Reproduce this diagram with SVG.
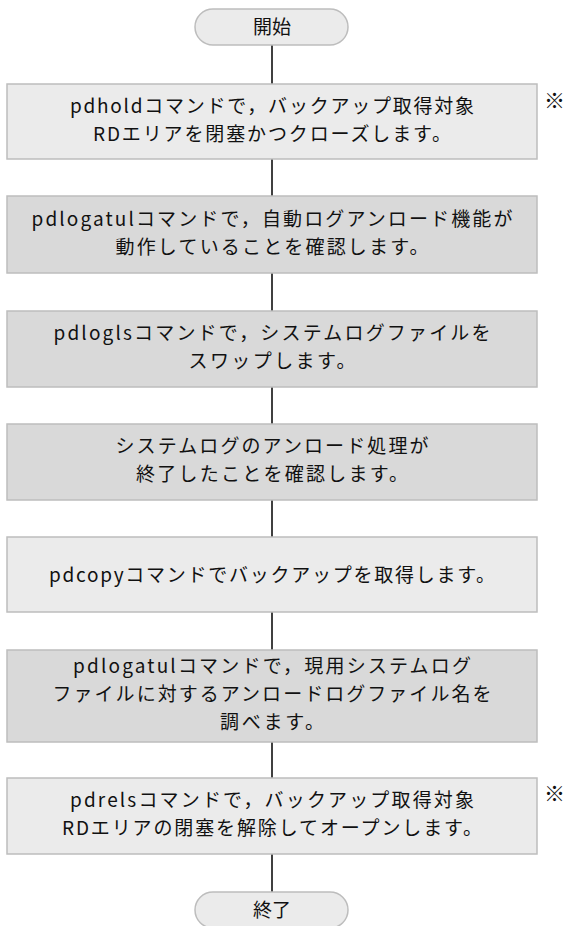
<svg xmlns="http://www.w3.org/2000/svg" width="566" height="926" viewBox="0 0 566 926">
<style>
.box{stroke:#bdbdbd;stroke-width:1.5}
.lt{fill:#ebebeb}
.dk{fill:#d9d9d9}
.t{font-family:"Noto Sans CJK JP","Noto Sans Mono CJK JP",sans-serif;font-size:19px;fill:#111;text-anchor:middle}
.m{font-size:21px}
.c{stroke:#000;stroke-width:1.5;fill:none}
</style>
<rect width="566" height="926" fill="#fff"/>
<g id="connectors">
<line class="c" x1="272" y1="45" x2="272" y2="84"/>
<line class="c" x1="272" y1="159" x2="272" y2="196"/>
<line class="c" x1="272" y1="273" x2="272" y2="311"/>
<line class="c" x1="272" y1="387" x2="272" y2="424"/>
<line class="c" x1="272" y1="500" x2="272" y2="537"/>
<line class="c" x1="272" y1="612" x2="272" y2="650"/>
<line class="c" x1="272" y1="742" x2="272" y2="778"/>
<line class="c" x1="272" y1="854" x2="272" y2="892"/>
</g>
<g id="start">
<rect class="box lt" x="195" y="9" width="153" height="36" rx="18"/>
<text class="t" x="272" y="34">開始</text>
</g>
<g id="step1">
<rect class="box lt" x="7" y="84" width="530" height="75"/>
<text class="t" x="272" y="112.5" textLength="404" lengthAdjust="spacing">pdholdコマンドで，バックアップ取得対象</text>
<text class="t" x="272" y="140.5" textLength="358" lengthAdjust="spacing">RDエリアを閉塞かつクローズします。</text>
<text class="t m" x="554.5" y="108">※</text>
</g>
<g id="step2">
<rect class="box dk" x="7" y="196" width="530" height="77"/>
<text class="t" x="272" y="225.5" textLength="481" lengthAdjust="spacing">pdlogatulコマンドで，自動ログアンロード機能が</text>
<text class="t" x="272" y="253.5" textLength="313" lengthAdjust="spacing">動作していることを確認します。</text>
</g>
<g id="step3">
<rect class="box dk" x="7" y="311" width="530" height="76"/>
<text class="t" x="272" y="340" textLength="437" lengthAdjust="spacing">pdloglsコマンドで，システムログファイルを</text>
<text class="t" x="272" y="368" textLength="167" lengthAdjust="spacing">スワップします。</text>
</g>
<g id="step4">
<rect class="box dk" x="7" y="424" width="530" height="76"/>
<text class="t" x="272" y="453" textLength="313" lengthAdjust="spacing">システムログのアンロード処理が</text>
<text class="t" x="272" y="481" textLength="272" lengthAdjust="spacing">終了したことを確認します。</text>
</g>
<g id="step5">
<rect class="box lt" x="7" y="537" width="530" height="75"/>
<text class="t" x="272" y="581.5" textLength="446" lengthAdjust="spacing">pdcopyコマンドでバックアップを取得します。</text>
</g>
<g id="step6">
<rect class="box dk" x="7" y="650" width="530" height="92"/>
<text class="t" x="272" y="673" textLength="398" lengthAdjust="spacing">pdlogatulコマンドで，現用システムログ</text>
<text class="t" x="272" y="701" textLength="439" lengthAdjust="spacing">ファイルに対するアンロードログファイル名を</text>
<text class="t" x="272" y="729" textLength="104" lengthAdjust="spacing">調べます。</text>
</g>
<g id="step7">
<rect class="box lt" x="7" y="778" width="530" height="76"/>
<text class="t" x="272" y="807" textLength="404" lengthAdjust="spacing">pdrelsコマンドで，バックアップ取得対象</text>
<text class="t" x="272" y="835" textLength="420" lengthAdjust="spacing">RDエリアの閉塞を解除してオープンします。</text>
<text class="t m" x="554.5" y="801">※</text>
</g>
<g id="end">
<rect class="box lt" x="195" y="892" width="153" height="36" rx="18"/>
<text class="t" x="272" y="917">終了</text>
</g>
</svg>
